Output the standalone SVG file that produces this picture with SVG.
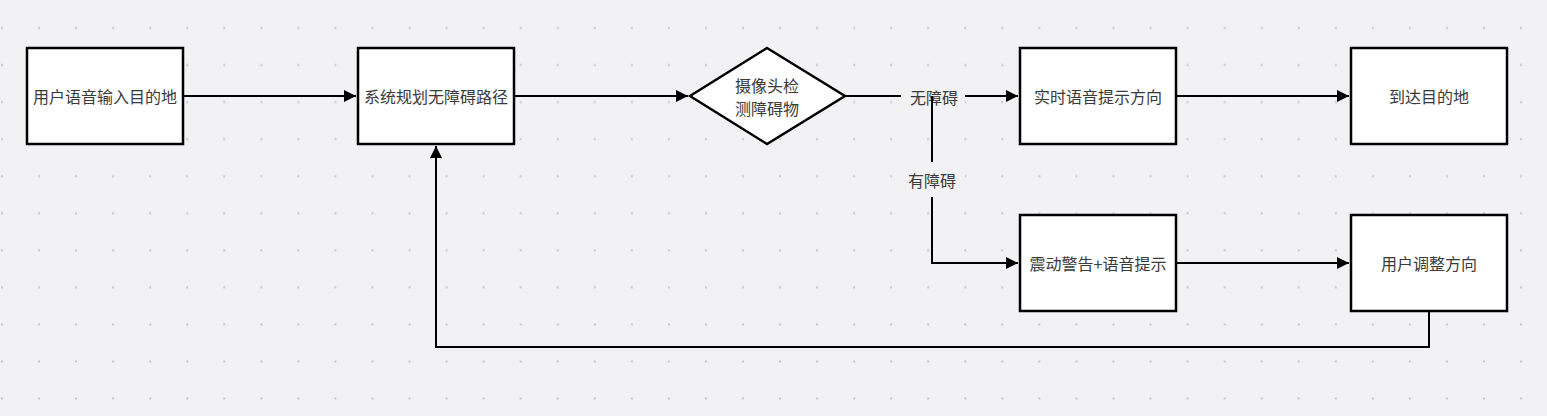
<svg xmlns="http://www.w3.org/2000/svg" width="1547" height="416" viewBox="0 0 1547 416">
<defs>
<pattern id="dots" x="0" y="9" width="37.05" height="37.05" patternUnits="userSpaceOnUse">
<rect x="1" y="18" width="2" height="2" fill="#c6c6c8"/>
</pattern>
<marker id="arr" viewBox="0 0 12 12" refX="12" refY="6" markerWidth="12" markerHeight="12" markerUnits="userSpaceOnUse" orient="auto">
<path d="M0,0 L12,6 L0,12 Z" fill="#000"/>
</marker>
</defs>
<style>
.node rect, .node polygon { fill: #ffffff; stroke: #000; stroke-width: 2.5; }
.node text, .lbl { font-family: "Noto Sans CJK SC", "Liberation Sans", sans-serif; font-size: 16px; fill: #3a3a3a; text-anchor: middle; dominant-baseline: central; }
.edge { fill: none; stroke: #000; stroke-width: 2; marker-end: url(#arr); }
</style>
<rect width="1547" height="416" fill="#f2f2f4"/>
<rect width="1547" height="416" fill="url(#dots)"/>

<g id="connectors">
<path class="edge" d="M183,96 H356"/>
<path class="edge" d="M514,96 H688"/>
<path class="edge" d="M845,96 H1018"/>
<rect x="901" y="86" width="64" height="22" fill="#f2f2f4"/>
<text class="lbl" x="934" y="97">无障碍</text>
<path class="edge" d="M932,96 V263 H1018"/>
<rect x="899" y="162" width="66" height="35" fill="#f2f2f4"/>
<text class="lbl" x="932" y="180">有障碍</text>
<path class="edge" d="M1176,96 H1349"/>
<path class="edge" d="M1176,263 H1349"/>
<path class="edge" d="M1429,310 V347 H436 V146"/>
</g>

<g id="n1" class="node"><rect x="27" y="48" width="156" height="96"/><text x="105" y="96">用户语音输入目的地</text></g>
<g id="n2" class="node"><rect x="358" y="48" width="156" height="96"/><text x="436" y="96">系统规划无障碍路径</text></g>
<g id="n3" class="node"><polygon points="767,48 845,96 767,144 690,96"/><text x="767" y="85">摄像头检</text><text x="767" y="108">测障碍物</text></g>
<g id="n4" class="node"><rect x="1020" y="48" width="156" height="96"/><text x="1098" y="96">实时语音提示方向</text></g>
<g id="n5" class="node"><rect x="1351" y="48" width="156" height="96"/><text x="1429" y="96">到达目的地</text></g>
<g id="n6" class="node"><rect x="1020" y="215" width="156" height="96"/><text x="1098" y="263">震动警告+语音提示</text></g>
<g id="n7" class="node"><rect x="1351" y="215" width="156" height="96"/><text x="1429" y="263">用户调整方向</text></g>
</svg>
